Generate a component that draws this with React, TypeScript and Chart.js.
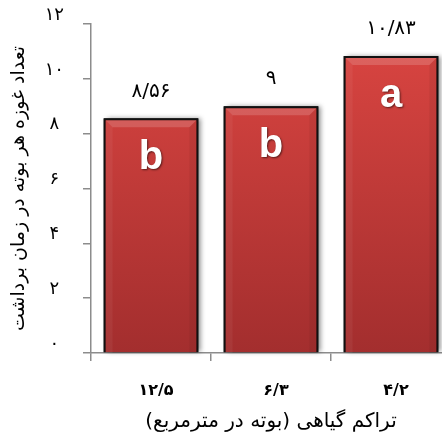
import React, { useEffect, useRef } from "react";
import { Chart, registerables } from "chart.js";

Chart.register(...registerables);

// ---- data ----
const densities = [12.5, 6.3, 4.2]; // plants per m²
const bollCounts = [8.56, 9, 10.83];
const groupLetters = ["b", "b", "a"];
const yTicks = [0, 2, 4, 6, 8, 10, 12];
const yTitle = "تعداد غوزه هر بوته در زمان برداشت";
const xTitle = "تراکم گیاهی (بوته در مترمربع)";

const FA_DIGITS = "۰۱۲۳۴۵۶۷۸۹";
const toFa = (n: number): string =>
  String(n)
    .replace(".", "/")
    .replace(/[0-9]/g, (d) => FA_DIGITS[Number(d)]);

const RLM = "\u200F";
const FONT = "'DejaVu Sans', sans-serif";
const AXIS_COLOR = "#8c8c8c";

const W = 456;
const H = 439;

const barDecor = {
  id: "barDecor",
  beforeDatasetsDraw(chart: any) {
    const ctx = chart.ctx;
    const meta = chart.getDatasetMeta(0);
    ctx.save();
    ctx.shadowColor = "rgba(0,0,0,0.45)";
    ctx.shadowBlur = 5;
    ctx.shadowOffsetX = 3;
    ctx.shadowOffsetY = 0;
    ctx.fillStyle = "#000";
    meta.data.forEach((el: any) => {
      const { x, y, base, width } = el.getProps(["x", "y", "base", "width"], true);
      ctx.fillRect(x - width / 2, y, width, base - y);
    });
    ctx.restore();
  },
  afterDatasetsDraw(chart: any) {
    const ctx = chart.ctx;
    const meta = chart.getDatasetMeta(0);
    meta.data.forEach((el: any, i: number) => {
      const { x, y, width } = el.getProps(["x", "y", "width"], true);
      const l = x - width / 2 + 2;
      const r = x + width / 2 - 2;
      const t = y + 2;
      const b = 7;
      ctx.save();
      // top bevel highlight
      ctx.fillStyle = "rgba(255,255,255,0.16)";
      ctx.beginPath();
      ctx.moveTo(l, t);
      ctx.lineTo(r, t);
      ctx.lineTo(r - b, t + b);
      ctx.lineTo(l + b, t + b);
      ctx.closePath();
      ctx.fill();
      // side bevels
      ctx.fillStyle = "rgba(0,0,0,0.06)";
      ctx.beginPath();
      ctx.moveTo(r, t);
      ctx.lineTo(r, chart.chartArea.bottom);
      ctx.lineTo(r - b, chart.chartArea.bottom);
      ctx.lineTo(r - b, t + b);
      ctx.closePath();
      ctx.fill();
      ctx.fillStyle = "rgba(255,255,255,0.05)";
      ctx.beginPath();
      ctx.moveTo(l, t);
      ctx.lineTo(l, chart.chartArea.bottom);
      ctx.lineTo(l + b, chart.chartArea.bottom);
      ctx.lineTo(l + b, t + b);
      ctx.closePath();
      ctx.fill();
      ctx.restore();

      // value label above the bar
      ctx.save();
      ctx.fillStyle = "#000";
      ctx.font = `20px ${FONT}`;
      ctx.textAlign = "center";
      ctx.textBaseline = "middle";
      ctx.fillText(toFa(bollCounts[i]), x, y - 27);
      ctx.restore();

      // group letter inside the bar
      ctx.save();
      ctx.fillStyle = "#fff";
      ctx.font = `bold 40px 'Liberation Sans', Arial, sans-serif`;
      ctx.textAlign = "center";
      ctx.textBaseline = "middle";
      ctx.shadowColor = "rgba(0,0,0,0.55)";
      ctx.shadowBlur = 2;
      ctx.shadowOffsetX = 1;
      ctx.shadowOffsetY = 1;
      ctx.fillText(groupLetters[i], x, y + 40);
      ctx.restore();
    });
  },
};

export default function App() {
  const ref = useRef<HTMLCanvasElement | null>(null);

  useEffect(() => {
    if (!ref.current) return;
    const chart = new Chart(ref.current, {
      type: "bar",
      data: {
        labels: densities.map(toFa),
        datasets: [
          {
            data: bollCounts,
            backgroundColor: (c: any) => {
              const area = c.chart.chartArea;
              if (!area) return "#c43c3a";
              const g = c.chart.ctx.createLinearGradient(0, area.top, 0, area.bottom);
              g.addColorStop(0, "#dc4642");
              g.addColorStop(1, "#a32e2e");
              return g;
            },
            borderColor: "#111",
            borderWidth: 2,
            borderSkipped: "bottom",
            categoryPercentage: 1,
            barPercentage: 0.79,
          },
        ],
      },
      options: {
        responsive: false,
        animation: false,
        devicePixelRatio: 1,
        layout: { padding: { top: 24, right: W - 451, left: 0, bottom: 0 } },
        plugins: {
          legend: { display: false },
          tooltip: { enabled: false },
        },
        scales: {
          x: {
            afterFit: (s: any) => {
              s.height = 86;
              s.paddingLeft = 0;
              s.paddingRight = 0;
            },
            grid: {
              display: true,
              drawOnChartArea: false,
              drawTicks: true,
              tickLength: 8,
              color: AXIS_COLOR,
              lineWidth: 1.5,
            },
            border: { display: true, color: AXIS_COLOR, width: 1.5 },
            ticks: {
              color: "#000",
              padding: 20,
              labelOffset: 5,
              font: { family: FONT, size: 16, weight: "bold" },
            },
            title: {
              display: true,
              text: RLM + xTitle + RLM,
              color: "#000",
              font: { family: FONT, size: 20 },
              padding: { top: 0, bottom: 5 },
            },
          },
          y: {
            min: 0,
            max: 12,
            afterFit: (s: any) => {
              s.width = 91;
              s.paddingTop = 0;
              s.paddingBottom = 0;
            },
            afterBuildTicks: (s: any) => {
              s.ticks = yTicks.map((v) => ({ value: v }));
            },
            grid: {
              display: true,
              drawOnChartArea: false,
              drawTicks: true,
              tickLength: 8,
              color: AXIS_COLOR,
              lineWidth: 1.5,
            },
            border: { display: true, color: AXIS_COLOR, width: 1.5 },
            ticks: {
              color: "#000",
              padding: 19,
              crossAlign: "center",
              labelOffset: -9,
              font: { family: FONT, size: 18 },
              callback: (v: any) => toFa(Number(v)),
            },
            title: {
              display: true,
              text: RLM + yTitle + RLM,
              color: "#000",
              font: { family: FONT, size: 19 },
              padding: { top: 8, bottom: 0 },
            },
          },
        },
      },
      plugins: [barDecor],
    } as any);
    return () => chart.destroy();
  }, []);

  return (
    <div
      style={{
        position: "fixed",
        left: 0,
        top: 0,
        width: 442,
        height: H,
        overflow: "hidden",
        background: "#fff",
      }}
    >
      <canvas ref={ref} width={W} height={H} style={{ display: "block", width: W, height: H }} />
    </div>
  );
}
